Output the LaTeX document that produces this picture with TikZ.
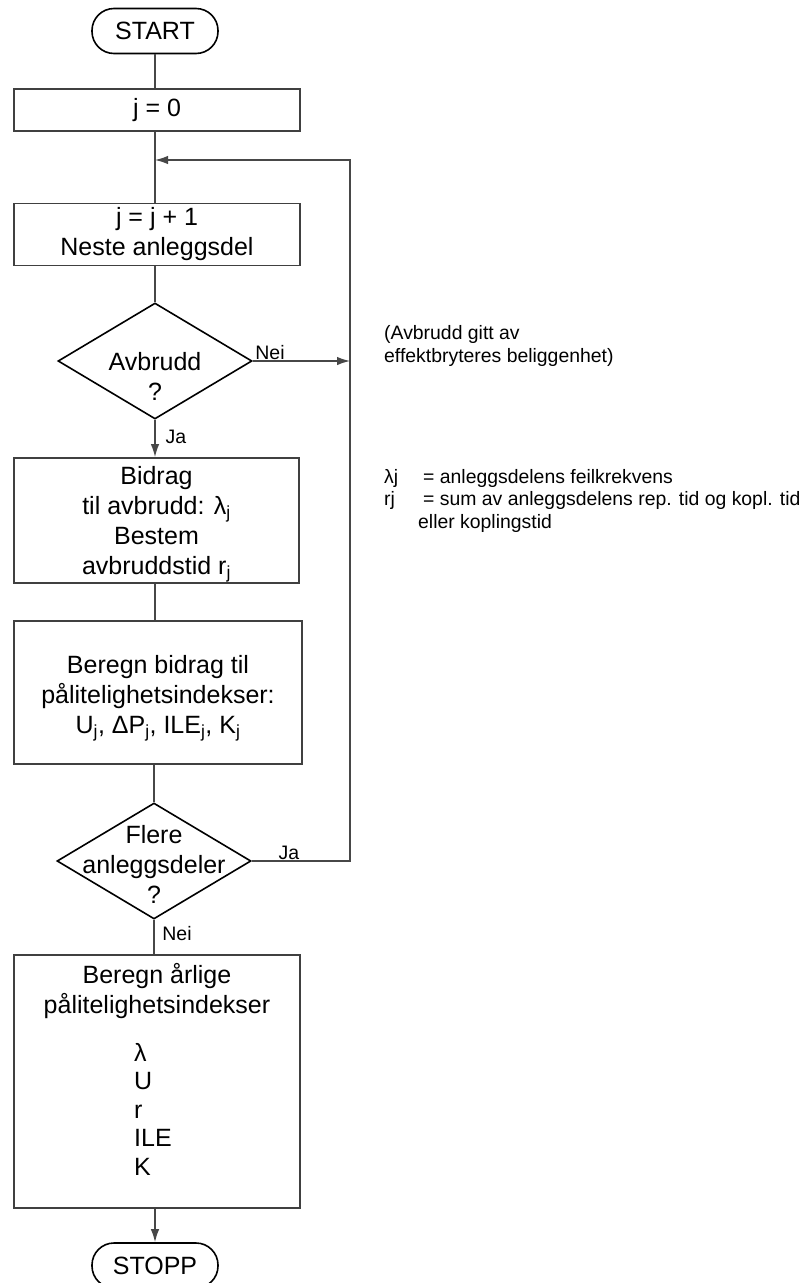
\documentclass[tikz,border=0pt]{standalone}
\usepackage{fontspec}
\setmainfont{Liberation Sans}
\usetikzlibrary{shapes.geometric,arrows.meta}
\newcommand\subj{\textsubscript{j}}

\begin{document}
\begin{tikzpicture}[x=1pt,y=-1pt,
  line/.style={draw=black!72,line width=1.4pt},
  flow/.style={line,-{Latex[length=13pt,width=8.5pt]}},
  stepbox/.style={rectangle,draw=black!75,line width=1.8pt,inner sep=0pt,align=center,
    font=\fontsize{25}{30}\selectfont},
  term/.style={rectangle,rounded corners=22pt,draw=black,line width=1.6pt,
    minimum width=126pt,minimum height=45pt,inner sep=0pt,font=\fontsize{25}{30}\selectfont},
  decision/.style={diamond,draw=black,line width=1.6pt,minimum width=194pt,
    minimum height=116pt,inner sep=0pt},
  dtext/.style={align=center,inner sep=0pt,font=\fontsize{25}{30}\selectfont},
  tag/.style={inner sep=0pt,font=\fontsize{19.5}{22}\selectfont},
  note/.style={inner sep=0pt,anchor=west,align=left,font=\fontsize{19.4}{22.5}\selectfont}]

\fill[white] (0,0) rectangle (806,1283);
\useasboundingbox (0,0) rectangle (806,1283);

% main chain
\node[term] (start) at (155,31) {START};
\node[stepbox,minimum width=286pt,minimum height=42pt] (j0) at (157,110) {j = 0};
\node[stepbox,minimum width=286pt,minimum height=62pt] (jj) at (157,234.5) {j = j + 1\\Neste anleggsdel};
\node[decision] (d1) at (155,361) {};
\node[dtext] (d1t) at (155,376) {Avbrudd\\?};
\node[stepbox,minimum width=285pt,minimum height=125pt] (b1) at (156.5,520.5) {};
\node[dtext] (b1t) at (156.5,524.5)
  {Bidrag\\til avbrudd: λ\subj\\Bestem\\avbruddstid r\subj};
\node[stepbox,minimum width=288pt,minimum height=143pt] (b2) at (158,692.5) {};
\node[dtext] (b2t) at (158,698)
  {Beregn bidrag til\\pålitelighetsindekser:\\U\subj, ΔP\subj, ILE\subj, K\subj};
\node[decision] (d2) at (154,861) {};
\node[dtext] (d2t) at (154,864) {Flere\\anleggsdeler\\?};
\node[stepbox,minimum width=286pt,minimum height=253pt] (b3) at (157,1081.5) {};
\node[dtext] (b3t) at (157,991) {Beregn årlige\\pålitelighetsindekser};
\node[dtext,align=left,anchor=west,font=\fontsize{25}{28.5}\selectfont] (b3l) at (134,1109)
  {λ\\U\\r\\ILE\\K};
\node[term] (stop) at (155,1265.5) {STOPP};

% loop coordinates
\coordinate (merge) at (155,160);
\coordinate (loopTop) at (350,160);

% connectors
\draw[line] (start.south) -- (start.south |- j0.north);
\draw[line] (j0.south -| start) -- (jj.north -| start);
\draw[line] (jj.south -| d1) -- (d1.north);
\draw[flow] (d1.east) -- (d1.east -| loopTop);
\draw[flow] (d1.south) -- (b1.north -| d1);
\draw[line] (b1.south -| d1) -- (b2.north -| d1);
\draw[line] (b2.south -| d2) -- (d2.north);
\draw[line] (d2.south) -- (b3.north -| d2);
\draw[flow] (b3.south -| stop) -- (stop.north);
\draw[flow] (d2.east) -- (d2.east -| loopTop) -- (loopTop) -- (merge);

% branch labels
\node[tag] (l1) at (270,353) {Nei};
\node[tag] (l2) at (176,437) {Ja};
\node[tag] (l3) at (289,853) {Ja};
\node[tag] (l4) at (177,934) {Nei};

% side notes
\node[note] (n1) at (384,346) {(Avbrudd gitt av\\effektbryteres beliggenhet)};
\node[note] (n2) at (384,478) {λj};
\node[note] (n3) at (423,478) {= anleggsdelens feilkrekvens};
\node[note] (n4) at (384,500) {rj};
\node[note] (n5) at (423,500) {= sum av anleggsdelens rep. tid og kopl. tid};
\node[note] (n6) at (418,523) {eller koplingstid};
\end{tikzpicture}
\end{document}
